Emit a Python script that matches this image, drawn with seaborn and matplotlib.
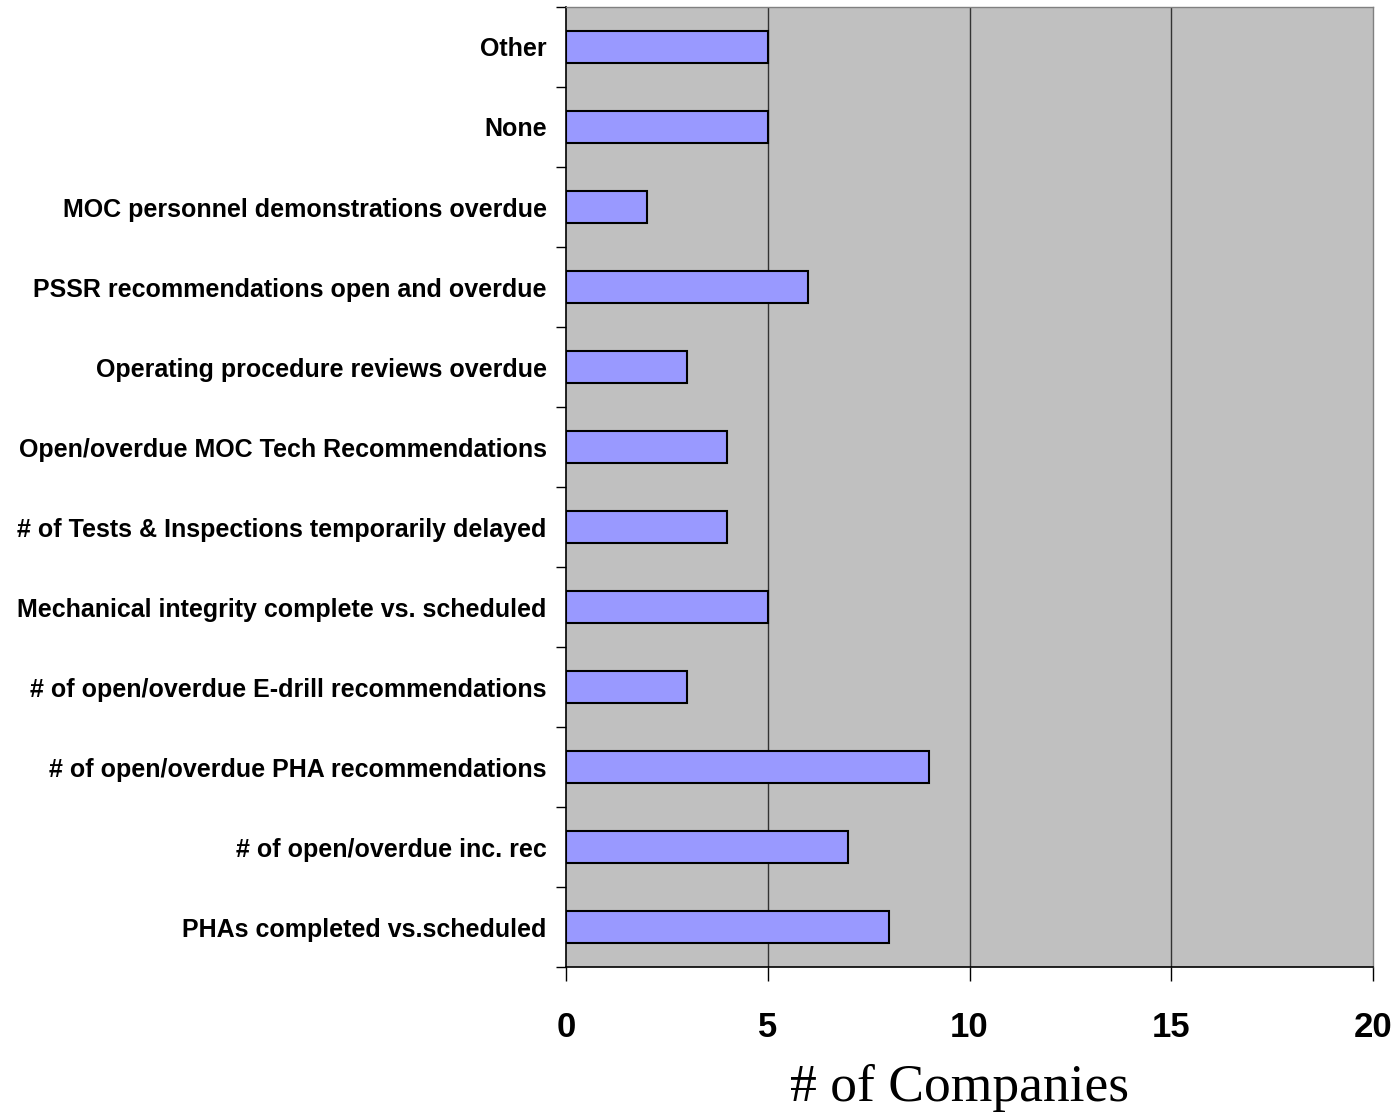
import matplotlib
matplotlib.use("Agg")
import matplotlib.pyplot as plt
from matplotlib.ticker import FixedLocator
import seaborn as sns
import pandas as pd

# Metrics, listed top to bottom as they appear on the chart
metrics = [
    "Other",
    "None",
    "MOC personnel demonstrations overdue",
    "PSSR recommendations open and overdue",
    "Operating procedure reviews overdue",
    "Open/overdue MOC Tech Recommendations",
    "# of Tests & Inspections temporarily delayed",
    "Mechanical integrity complete vs. scheduled",
    "# of open/overdue E-drill recommendations",
    "# of open/overdue PHA recommendations",
    "# of open/overdue inc. rec",
    "PHAs completed vs.scheduled",
]
companies = [5, 5, 2, 6, 3, 4, 4, 5, 3, 9, 7, 8]
x_ticks = [0, 5, 10, 15, 20]

df = pd.DataFrame({"metric": metrics, "companies": companies})

sns.set_style("white")
plt.rcParams["font.family"] = ["Liberation Sans", "DejaVu Sans"]
plt.rcParams["text.color"] = "black"
plt.rcParams["xtick.color"] = "black"
plt.rcParams["ytick.color"] = "black"

fig = plt.figure(figsize=(13.93, 11.19), dpi=100)
ax = fig.add_axes([566 / 1393, 1 - 967 / 1119, (1373 - 566) / 1393, (967 - 7) / 1119])
ax.set_facecolor("#C0C0C0")

sns.barplot(data=df, x="companies", y="metric", orient="h", ax=ax,
            color="#9999FF", edgecolor="black", linewidth=1.5,
            width=0.4, saturation=1, zorder=3)

ax.set_xlim(0, 20)
ax.set_ylim(len(metrics) - 0.5, -0.5)

# vertical gridlines
for v in x_ticks[1:-1]:
    ax.axvline(v, color="#333333", linewidth=1.0, zorder=1)

ax.xaxis.set_major_locator(FixedLocator(x_ticks))
ax.set_xticklabels([str(t) for t in x_ticks], fontsize=25, fontweight="bold",
                   color="black")
ax.tick_params(axis="x", which="major", direction="out", length=10, width=1,
               color="black", pad=22, bottom=True)

# category boundary ticks on the left axis
ax.yaxis.set_minor_locator(FixedLocator([i - 0.5 for i in range(len(metrics) + 1)]))
ax.tick_params(axis="y", which="minor", direction="out", length=7, width=1,
               color="black", left=True)
ax.tick_params(axis="y", which="major", length=0, pad=14)
for lbl in ax.get_yticklabels():
    lbl.set_fontsize(18)
    lbl.set_fontweight("bold")
    lbl.set_color("black")

ax.set_xlabel("")
ax.set_ylabel("")

for side in ["left", "bottom"]:
    ax.spines[side].set_visible(True)
    ax.spines[side].set_color("black")
    ax.spines[side].set_linewidth(1.2)
for side in ["top", "right"]:
    ax.spines[side].set_visible(True)
    ax.spines[side].set_color("#808080")
    ax.spines[side].set_linewidth(1.0)

fig.text(960 / 1393, 1 - 1101 / 1119, "# of Companies", ha="center", va="baseline",
         fontsize=38.5, color="black", family=["Liberation Serif", "DejaVu Serif"])

fig.savefig("out.png", dpi=100)
